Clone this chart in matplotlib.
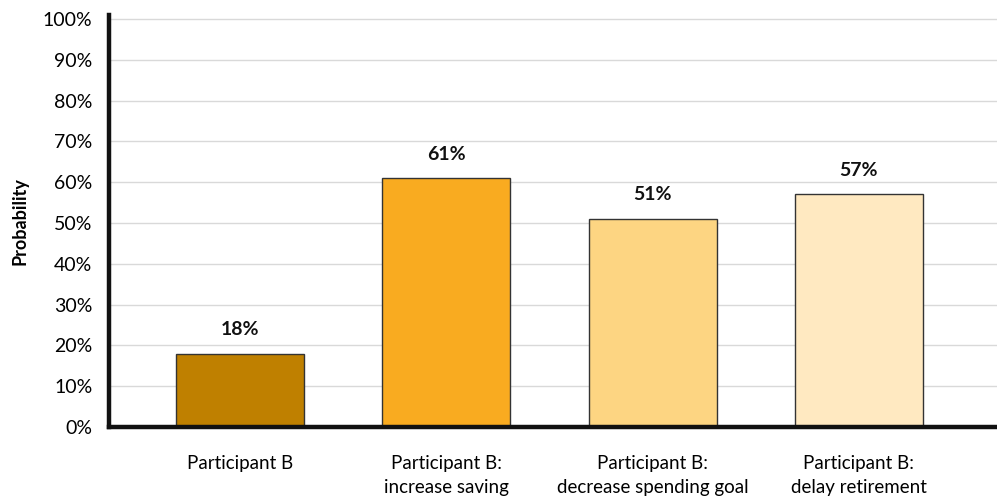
import matplotlib
matplotlib.use("Agg")
import matplotlib.pyplot as plt
from matplotlib.ticker import PercentFormatter

categories = ["Participant B", "Participant B:\nincrease saving",
              "Participant B:\ndecrease spending goal", "Participant B:\ndelay retirement"]
values = [18, 61, 51, 57]
colors = ["#BF8000", "#F9AB20", "#FDD582", "#FFE9C1"]

plt.rcParams["font.family"] = ["Lato", "DejaVu Sans"]

fig = plt.figure(figsize=(9.97, 4.99), dpi=100)
ax = fig.add_axes([0.1093, 0.1443, 0.8907, 0.8257])

x = range(len(values))
bars = ax.bar(x, values, width=0.62, color=colors, edgecolor="#333333", linewidth=1, zorder=3)
for b, v in zip(bars, values):
    ax.text(b.get_x() + b.get_width() / 2, v + 3.8, f"{v}%", ha="center", va="bottom",
            fontsize=14, fontweight="bold", color="#111111")

ax.set_ylim(0, 101)
ax.set_xlim(-0.636, 3.67)
ax.set_yticks(range(0, 101, 10))
ax.yaxis.set_major_formatter(PercentFormatter(decimals=0))
ax.set_xticks(list(x))
ax.set_xticklabels(categories, fontsize=13.5, linespacing=1.55)
ax.tick_params(axis="y", labelsize=14, length=0, pad=12)
ax.tick_params(axis="x", length=0, pad=20)
ax.grid(axis="y", color="#d9d9d9", linewidth=1, zorder=0)

for side in ["top", "right"]:
    ax.spines[side].set_visible(False)
for side in ["left", "bottom"]:
    ax.spines[side].set_linewidth(3.2)
    ax.spines[side].set_color("#111111")
    ax.spines[side].set_zorder(4)

ax.set_ylabel("Probability", fontsize=13, fontweight="bold", labelpad=10)

fig.savefig("out.png", dpi=100)
